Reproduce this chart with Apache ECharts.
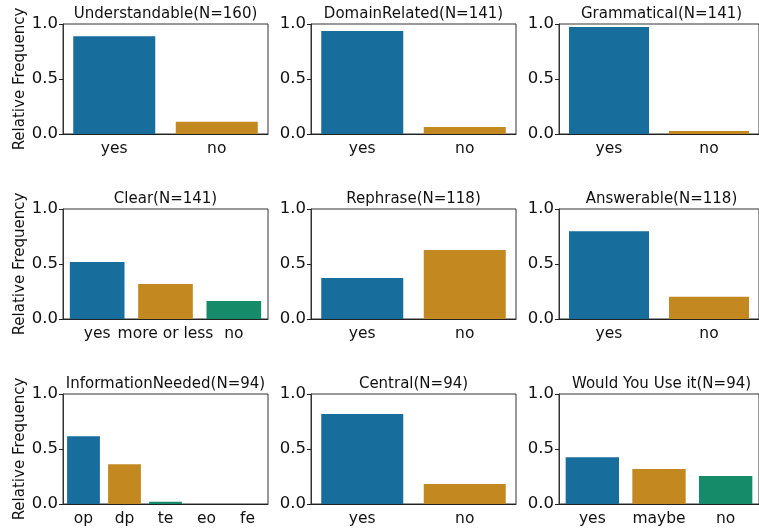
<!DOCTYPE html>
<html>
<head>
<meta charset="utf-8">
<script src="https://cdn.jsdelivr.net/npm/echarts@6/dist/echarts.min.js"></script>
<style>
  html, body { margin: 0; padding: 0; background: #fff; }
  #chart { width: 759px; height: 529px; }
</style>
</head>
<body>
<div id="chart"></div>
<script>
// panel titles and categories
const titles = [
  'Understandable(N=160)', 'DomainRelated(N=141)', 'Grammatical(N=141)',
  'Clear(N=141)', 'Rephrase(N=118)', 'Answerable(N=118)',
  'InformationNeeded(N=94)', 'Central(N=94)', 'Would You Use it(N=94)'
];
const categories = [
  ['yes', 'no'], ['yes', 'no'], ['yes', 'no'],
  ['yes', 'more or less', 'no'], ['yes', 'no'], ['yes', 'no'],
  ['op', 'dp', 'te', 'eo', 'fe'], ['yes', 'no'], ['yes', 'maybe', 'no']
];
// relative frequencies
const values = [
  [0.888, 0.112], [0.936, 0.064], [0.972, 0.028],
  [0.518, 0.319, 0.163], [0.373, 0.627], [0.797, 0.203],
  [0.617, 0.362, 0.021, 0, 0], [0.819, 0.181], [0.426, 0.319, 0.255]
];
const yTicks = [0, 0.5, 1.0];

const palette = ['#176d9c', '#c38820', '#168b6a', '#a3641a', '#b8739a'];
const font = 'DejaVu Sans';

const colLeft = [63, 311, 559];
const rowTop = [24, 209, 394];
const plotW = 205;
const plotH = 110;

const myChart = echarts.init(document.getElementById('chart'));

const grid = [], xAxis = [], yAxis = [], series = [], title = [];

titles.forEach((t, i) => {
  const r = Math.floor(i / 3);
  const c = i % 3;
  grid.push({
    left: colLeft[c], top: rowTop[r], width: plotW, height: plotH,
    show: true, borderColor: '#333', borderWidth: 1, backgroundColor: 'transparent'
  });
  title.push({
    text: t,
    left: colLeft[c] + plotW / 2,
    top: rowTop[r] - 17,
    textAlign: 'center',
    padding: 0,
    textStyle: { fontFamily: font, fontSize: 15, fontWeight: 'normal', color: '#111' }
  });
  xAxis.push({
    type: 'category',
    gridIndex: i,
    data: categories[i],
    axisLine: { lineStyle: { color: '#222', width: 1 } },
    axisTick: { alignWithLabel: true, length: 4, lineStyle: { color: '#222' } },
    axisLabel: { fontFamily: font, fontSize: 15.5, color: '#111', margin: 7, interval: 0 },
    splitLine: { show: false }
  });
  yAxis.push({
    type: 'value',
    gridIndex: i,
    min: yTicks[0], max: yTicks[yTicks.length - 1], interval: 0.5,
    name: c === 0 ? 'Relative Frequency' : '',
    nameLocation: 'middle',
    nameGap: 35,
    nameTextStyle: { fontFamily: font, fontSize: 15, color: '#111' },
    axisLine: { show: true, lineStyle: { color: '#333', width: 1 } },
    axisTick: { show: true, length: 4, lineStyle: { color: '#222' } },
    axisLabel: { fontFamily: font, fontSize: 16.5, color: '#111', margin: 5,
      formatter: v => v.toFixed(1) },
    splitLine: { show: false }
  });
  series.push({
    type: 'bar',
    xAxisIndex: i,
    yAxisIndex: i,
    barCategoryGap: '20%',
    data: values[i].map((v, k) => ({ value: v, itemStyle: { color: palette[k] } })),
    animation: false
  });
});

myChart.setOption({
  animation: false,
  title: title,
  grid: grid,
  xAxis: xAxis,
  yAxis: yAxis,
  series: series
});

window.addEventListener('resize', () => {
  myChart.resize();
});
</script>
</body>
</html>
